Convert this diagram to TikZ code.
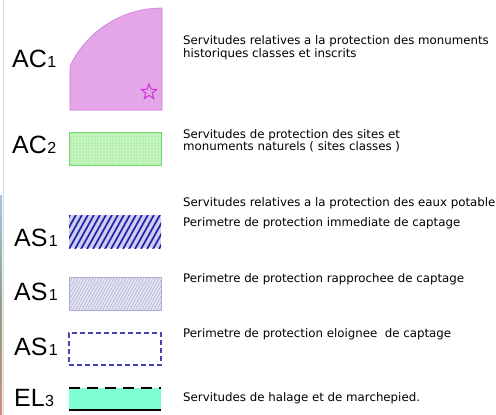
\documentclass[tikz,border=0pt]{standalone}
\usepackage{fontspec}
\setmainfont{DejaVu Sans}
\newfontfamily\labfont{Liberation Sans}
\usetikzlibrary{calc,shapes.geometric}
\definecolor{pinkfill}{RGB}{228,165,233}
\definecolor{pinkdraw}{RGB}{205,125,215}
\definecolor{greenfill}{RGB}{178,238,172}
\definecolor{greengrid}{RGB}{200,245,195}
\definecolor{greendraw}{RGB}{115,215,115}
\definecolor{bluebg}{RGB}{205,205,242}
\definecolor{bluehatch}{RGB}{35,35,165}
\definecolor{lightbg}{RGB}{228,228,242}
\definecolor{lighthatch}{RGB}{172,172,215}
\definecolor{dashblue}{RGB}{70,70,185}
\definecolor{aqua}{RGB}{128,255,215}
\definecolor{starcol}{RGB}{210,50,210}
\tikzset{
  desc/.style={anchor=base west, inner sep=0pt, align=left, font=\fontsize{11.8}{13}\selectfont},
  lab/.style={anchor=base west, inner sep=0pt, font=\labfont\fontsize{25}{30}\selectfont},
  dig/.style={anchor=base west, inner sep=0pt, font=\labfont\fontsize{16}{20}\selectfont},
  legbox/.style={rectangle, inner sep=0pt, minimum width=92pt},
}
\begin{document}
\begin{tikzpicture}[x=1pt,y=1pt]
\useasboundingbox (0,-415) rectangle (496,0);
\fill[white] (0,-415) rectangle (496,0);
% left edge remnants
\shade[top color={rgb,255:red,170;green,195;blue,225}, bottom color={rgb,255:red,205;green,140;blue,130}, middle color={rgb,255:red,140;green,160;blue,135}] (0,-415) rectangle (2,-195);
\draw[gray!30, line width=1pt] (3.5,0) -- (3.5,-415);

% AC1 quarter shape
\filldraw[fill=pinkfill, draw=pinkdraw, line width=0.6pt]
  (162,-110) -- (162,-8) arc[start angle=90, end angle=154.4, radius=102] -- (70,-110) -- cycle;
\node[star, star points=5, star point ratio=2.3, draw=starcol, line width=1pt, minimum size=16pt, inner sep=0pt] (st) at (149,-92) {};

% AC2 box
\node[legbox, fill=greenfill, draw=greendraw, line width=0.8pt, minimum height=33pt,
  path picture={
    \foreach \i in {0,3,...,92} \draw[greengrid, line width=0.4pt] ($(path picture bounding box.south west)+(\i,0)$) -- ++(0,40);
    \foreach \i in {0,3,...,33} \draw[greengrid, line width=0.4pt] ($(path picture bounding box.south west)+(0,\i)$) -- ++(95,0);
  }] (b2) at (115,-148.5) {};

% AS1 dense hatch
\node[legbox, fill=bluebg, minimum height=33pt,
  path picture={
    \foreach \i in {-24,-18,...,96} \draw[bluehatch, line width=1.7pt] ($(path picture bounding box.south west)+(\i,-1)$) -- ++(20,36);
  }] (b3) at (115,-231.5) {};

% AS1 light hatch
\node[legbox, fill=lightbg, draw=lighthatch, line width=0.4pt, minimum height=33pt,
  path picture={
    \foreach \i in {-24,-21,...,96} \draw[lighthatch, line width=0.5pt] ($(path picture bounding box.south west)+(\i,-1)$) -- ++(20,36);
  }] (b4) at (115,-293.5) {};

% AS1 dashed
\node[legbox, draw=dashblue, line width=1.1pt, dash pattern=on 5pt off 3pt, minimum height=32pt] (b5) at (115,-349) {};

% EL3
\node[legbox, fill=aqua, minimum height=22pt] (b6) at (115,-399) {};
\draw[black, line width=2.2pt, dash pattern=on 11pt off 7pt] (b6.north west) -- (b6.north east);
\draw[black, line width=2pt] (b6.south west) -- (b6.south east);

% labels
\node[lab] (l1) at (12,-67.5) {AC};
\node[dig] (d1) at (l1.base east) {1};
\node[lab] (l2) at (12,-153) {AC};
\node[dig] (d2) at (l2.base east) {2};
\node[lab] (l3) at (14,-246) {AS};
\node[dig] (d3) at ([xshift=1pt]l3.base east) {1};
\node[lab] (l4) at (14,-300) {AS};
\node[dig] (d4) at ([xshift=1pt]l4.base east) {1};
\node[lab] (l5) at (14,-355) {AS};
\node[dig] (d5) at ([xshift=1pt]l5.base east) {1};
\node[lab] (l6) at (14,-406.5) {EL};
\node[dig] (d6) at (l6.base east) {3};

% descriptions
\node[desc] (t1) at (183,-57.3) {Servitudes relatives a la protection des monuments\\historiques classes et inscrits};
\node[desc, font=\fontsize{11.8}{11}\selectfont] (t2) at (183,-150.7) {Servitudes de protection des sites et\\monuments naturels ( sites classes )};
\node[desc] (t3) at (183,-206) {Servitudes relatives a la protection des eaux potable};
\node[desc] (t4) at (183,-226) {Perimetre de protection immediate de captage};
\node[desc] (t5) at (183,-282) {Perimetre de protection rapprochee de captage};
\node[desc] (t6) at (183,-337.5) {Perimetre de protection eloignee\ \ de captage};
\node[desc] (t7) at (183,-401) {Servitudes de halage et de marchepied.};
\end{tikzpicture}
\end{document}
